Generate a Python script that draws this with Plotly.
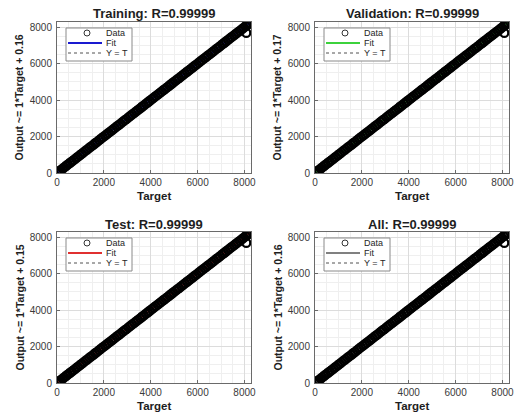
import plotly.graph_objects as go

# ---- data ----
panel_titles = ["Training: R=0.99999", "Validation: R=0.99999", "Test: R=0.99999", "All: R=0.99999"]
ylabels = ["Output ~= 1*Target + 0.16", "Output ~= 1*Target + 0.17",
           "Output ~= 1*Target + 0.15", "Output ~= 1*Target + 0.16"]
fit_colors = ["#1a1ad0", "#3cd23c", "#e03030", "#808080"]
fit_slopes = [1.0, 1.0, 1.0, 1.0]
fit_offsets = [0.16, 0.17, 0.15, 0.16]
legend_labels = ["Data", "Fit", "Y = T"]

targets = [0, 35, 90, 160, 240, 310, 395, 470, 560, 640, 720, 805, 880, 970, 1050,
           1130, 1220, 1300, 1385, 1460, 1550, 1630, 1710, 1800, 1880, 1960, 2050,
           2130, 2210, 2300, 2380, 2460, 2550, 2630, 2710, 2800, 2880, 2960, 3050,
           3130, 3210, 3300, 3380, 3460, 3550, 3630, 3710, 3800, 3880, 3960, 4050,
           4130, 4210, 4300, 4380, 4460, 4550, 4630, 4710, 4800, 4880, 4960, 5050,
           5130, 5210, 5300, 5380, 5460, 5550, 5630, 5710, 5800, 5880, 5960, 6050,
           6130, 6210, 6300, 6380, 6460, 6550, 6630, 6710, 6800, 6880, 6960, 7050,
           7130, 7210, 7300, 7380, 7460, 7550, 7630, 7710, 7800, 7880, 7960, 8050,
           8120, 8190, 8240, 8080]
outputs = [2, 33, 93, 158, 243, 309, 397, 468, 562, 641, 718, 807, 879, 972, 1048,
           1131, 1223, 1298, 1386, 1462, 1548, 1632, 1709, 1802, 1879, 1962, 2048,
           2131, 2212, 2298, 2381, 2459, 2552, 2628, 2712, 2799, 2882, 2958, 3051,
           3129, 3212, 3298, 3381, 3462, 3549, 3632, 3708, 3802, 3879, 3961, 4052,
           4128, 4211, 4302, 4379, 4458, 4552, 4629, 4712, 4798, 4881, 4962, 5049,
           5132, 5208, 5301, 5382, 5459, 5552, 5628, 5712, 5799, 5882, 5958, 6051,
           6129, 6212, 6298, 6381, 6462, 6549, 6632, 6708, 6802, 6879, 6961, 7052,
           7128, 7211, 7302, 7379, 7462, 7549, 7631, 7712, 7798, 7881, 7962, 8049,
           8122, 8188, 8238, 7680]
axis_range = [0, 8280]
tick_vals = [0, 2000, 4000, 6000, 8000]
tick_text = ["0", "2000", "4000", "6000", "8000"]

# ---- layout geometry (pixels) ----
W, H = 518, 412
plot_left = [57, 315]
plot_right = [251, 509]
plot_top = [22, 232]
plot_bottom = [173, 383]
FONT = "Liberation Sans, Arial, sans-serif"
TXT = "#1e1e1e"


def px(x):
    return x / W


def py(y):
    return 1 - y / H


fig = go.Figure()
annotations = []
shapes = []
tmin, tmax = min(targets), max(targets)

for i in range(4):
    r, c = divmod(i, 2)
    L, R, T, B = plot_left[c], plot_right[c], plot_top[r], plot_bottom[r]
    sfx = "" if i == 0 else str(i + 1)
    xa, ya = "x" + sfx, "y" + sfx
    # Y = T
    fig.add_trace(go.Scatter(x=[tmin, tmax], y=[tmin, tmax], mode="lines", name=legend_labels[2],
                             line=dict(color="#404040", width=1, dash="dot"),
                             xaxis=xa, yaxis=ya, showlegend=False))
    # Fit
    fig.add_trace(go.Scatter(x=[tmin, tmax],
                             y=[fit_slopes[i] * tmin + fit_offsets[i], fit_slopes[i] * tmax + fit_offsets[i]],
                             mode="lines", name=legend_labels[1], line=dict(color=fit_colors[i], width=2),
                             xaxis=xa, yaxis=ya, showlegend=False))
    # Data
    fig.add_trace(go.Scatter(x=targets, y=outputs, mode="markers", name=legend_labels[0],
                             marker=dict(symbol="circle-open", size=8, color="black",
                                         line=dict(width=2.3, color="black")),
                             xaxis=xa, yaxis=ya, showlegend=False))
    common = dict(range=axis_range, tickvals=tick_vals, ticktext=tick_text,
                  showgrid=True, gridcolor="#dcdcdc", gridwidth=1,
                  minor=dict(dtick=500, showgrid=True, gridcolor="#efefef", ticks=""),
                  showline=True, linecolor="#6a6a6a", linewidth=1, mirror=True,
                  ticks="inside", ticklen=3, tickcolor="#6a6a6a",
                  tickfont=dict(family=FONT, size=10, color="#3a3a3a"),
                  zeroline=False, fixedrange=True, automargin=False)
    fig.layout["xaxis" + sfx] = dict(common, domain=[px(L), px(R)], anchor=ya, ticklabelstandoff=0)
    fig.layout["yaxis" + sfx] = dict(common, domain=[py(B), py(T)], anchor=xa, ticklabelstandoff=2)

    # panel title
    annotations.append(dict(text="<b>" + panel_titles[i] + "</b>", xref="paper", yref="paper",
                            x=px((L + R) / 2), y=py(T - 8), xanchor="center", yanchor="middle",
                            showarrow=False, font=dict(family=FONT, size=13, color=TXT)))
    # x title
    annotations.append(dict(text="<b>Target</b>", xref="paper", yref="paper",
                            x=px((L + R) / 2), y=py(B + 22.5), xanchor="center", yanchor="middle",
                            showarrow=False, font=dict(family=FONT, size=11.5, color=TXT)))
    # y title
    annotations.append(dict(text="<b>" + ylabels[i] + "</b>", xref="paper", yref="paper",
                            x=px(L - 38), y=py((T + B) / 2), xanchor="center", yanchor="middle",
                            textangle=-90, showarrow=False,
                            font=dict(family=FONT, size=10.5, color=TXT)))

    # legend box (drawn like MATLAB's inset legend)
    shapes.append(dict(type="rect", xref="paper", yref="paper", layer="above",
                       x0=px(L + 9), x1=px(L + 75), y0=py(T + 39), y1=py(T + 6),
                       fillcolor="white", line=dict(color="#8a8a8a", width=1)))
    shapes.append(dict(type="circle", xref="paper", yref="paper", layer="above",
                       x0=px(L + 27), x1=px(L + 33), y0=py(T + 14), y1=py(T + 8),
                       line=dict(color="#333333", width=1)))
    shapes.append(dict(type="line", xref="paper", yref="paper", layer="above",
                       x0=px(L + 11), x1=px(L + 45), y0=py(T + 21), y1=py(T + 21),
                       line=dict(color=fit_colors[i], width=2)))
    shapes.append(dict(type="line", xref="paper", yref="paper", layer="above",
                       x0=px(L + 11), x1=px(L + 45), y0=py(T + 31), y1=py(T + 31),
                       line=dict(color="#505050", width=1, dash="dot")))
    for k, dy in enumerate([11, 21, 31]):
        annotations.append(dict(text=legend_labels[k], xref="paper", yref="paper",
                                x=px(L + 47), y=py(T + dy), xanchor="left", yanchor="middle",
                                showarrow=False, font=dict(family=FONT, size=9, color=TXT)))

fig.update_layout(width=W, height=H, margin=dict(l=0, r=0, t=0, b=0),
                  paper_bgcolor="white", plot_bgcolor="white",
                  annotations=annotations, shapes=shapes, showlegend=False)
fig.write_html("out.html", config={"displayModeBar": False},
               post_script="document.body.style.margin='0';document.body.style.overflow='hidden';")
